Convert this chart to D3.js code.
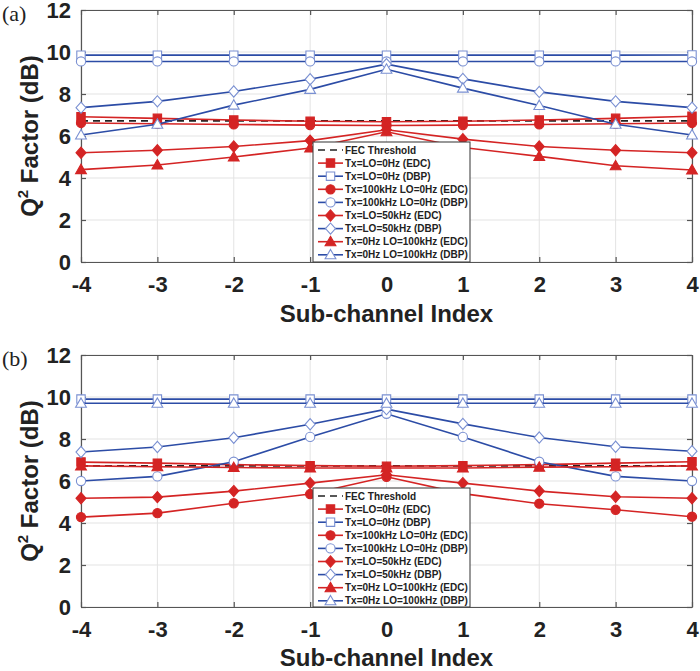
<!DOCTYPE html>
<html>
<head>
<meta charset="utf-8">
<script src="https://cdn.jsdelivr.net/npm/d3@7"></script>
<style>
  body { margin: 0; background: #fff; }
  svg { display: block; font-family: "Liberation Sans", Arial, sans-serif; }
</style>
</head>
<body>
<svg id="chart" width="700" height="671"></svg>
<script>
var subIdx = [-4, -3, -2, -1, 0, 1, 2, 3, 4];
var yTicks = [0, 2, 4, 6, 8, 10, 12];
var fecThreshold = 6.72;

var legendNames = [
  "Tx=LO=0Hz (EDC)",
  "Tx=LO=0Hz (DBP)",
  "Tx=100kHz LO=0Hz (EDC)",
  "Tx=100kHz LO=0Hz (DBP)",
  "Tx=LO=50kHz (EDC)",
  "Tx=LO=50kHz (DBP)",
  "Tx=0Hz LO=100kHz (EDC)",
  "Tx=0Hz LO=100kHz (DBP)"
];

// panel (a)
var aZeroEdc = [6.92, 6.84, 6.76, 6.7, 6.68, 6.7, 6.76, 6.84, 6.94];
var aZeroDbp = [9.85, 9.85, 9.85, 9.85, 9.85, 9.85, 9.85, 9.85, 9.86];
var aTx100Edc = [6.62, 6.58, 6.55, 6.52, 6.5, 6.52, 6.55, 6.58, 6.62];
var aTx100Dbp = [9.55, 9.55, 9.55, 9.55, 9.55, 9.55, 9.55, 9.55, 9.55];
var a50Edc = [5.2, 5.32, 5.5, 5.78, 6.3, 5.85, 5.5, 5.32, 5.2];
var a50Dbp = [7.35, 7.65, 8.12, 8.7, 9.42, 8.72, 8.1, 7.65, 7.35];
var aLo100Edc = [4.4, 4.62, 5.0, 5.43, 6.2, 5.45, 5.03, 4.58, 4.38];
var aLo100Dbp = [6.05, 6.56, 7.47, 8.22, 9.18, 8.28, 7.45, 6.56, 6.05];

// panel (b)
var bZeroEdc = [6.9, 6.85, 6.78, 6.73, 6.7, 6.73, 6.78, 6.85, 6.92];
var bZeroDbp = [9.9, 9.9, 9.9, 9.9, 9.9, 9.9, 9.9, 9.9, 9.9];
var bTx100Edc = [4.28, 4.47, 4.94, 5.38, 6.2, 5.4, 4.92, 4.63, 4.3];
var bTx100Dbp = [6.0, 6.22, 6.92, 8.1, 9.2, 8.1, 6.92, 6.22, 6.0];
var b50Edc = [5.18, 5.23, 5.52, 5.9, 6.3, 5.9, 5.52, 5.25, 5.18];
var b50Dbp = [7.38, 7.62, 8.06, 8.7, 9.42, 8.72, 8.07, 7.63, 7.42];
var bLo100Edc = [6.72, 6.68, 6.64, 6.62, 6.62, 6.62, 6.66, 6.68, 6.72];
var bLo100Dbp = [9.7, 9.7, 9.7, 9.7, 9.7, 9.7, 9.7, 9.7, 9.7];

var red = "#d42424";
var blueLine = "#2c4ca6";
var blueMark = "#7a90d2";

var seriesStyle = [
  { shape: "square", fill: true },
  { shape: "square", fill: false },
  { shape: "circle", fill: true },
  { shape: "circle", fill: false },
  { shape: "diamond", fill: true },
  { shape: "diamond", fill: false },
  { shape: "triangle", fill: true },
  { shape: "triangle", fill: false }
];

var panels = [
  { label: "(a)", top: 10, bottom: 262, legTop: 142, titleY: 60,
    series: [aZeroEdc, aZeroDbp, aTx100Edc, aTx100Dbp, a50Edc, a50Dbp, aLo100Edc, aLo100Dbp] },
  { label: "(b)", top: 355, bottom: 607, legTop: 488, titleY: 59,
    series: [bZeroEdc, bZeroDbp, bTx100Edc, bTx100Dbp, b50Edc, b50Dbp, bLo100Edc, bLo100Dbp] }
];

var svg = d3.select("#chart");
var left = 81, right = 692;

function markerPath(shape, x, y) {
  if (shape === "square") return `M${x-4.2},${y-4.2}h8.4v8.4h-8.4z`;
  if (shape === "circle") return `M${x-4.6},${y}a4.6,4.6 0 1,0 9.2,0a4.6,4.6 0 1,0 -9.2,0z`;
  if (shape === "diamond") return `M${x},${y-5.6}L${x+5},${y}L${x},${y+5.6}L${x-5},${y}z`;
  return `M${x},${y-5.4}L${x+5.4},${y+4}L${x-5.4},${y+4}z`;
}

function drawMarker(g, st, isRed, x, y) {
  var col = isRed ? red : blueMark;
  g.append("path")
    .attr("d", markerPath(st.shape, x, y))
    .attr("fill", st.fill ? col : "#fff")
    .attr("stroke", col)
    .attr("stroke-width", 1.1);
}

panels.forEach(function (p) {
  var x = d3.scaleLinear().domain([-4, 4]).range([left, right]);
  var y = d3.scaleLinear().domain([0, 12]).range([p.bottom, p.top]);
  var g = svg.append("g");

  // grid
  g.selectAll(".gx").data(subIdx).enter().append("line")
    .attr("x1", d => x(d)).attr("x2", d => x(d))
    .attr("y1", p.top).attr("y2", p.bottom)
    .attr("stroke", "#e3e3e3").attr("stroke-width", 1);
  g.selectAll(".gy").data(yTicks).enter().append("line")
    .attr("x1", left).attr("x2", right)
    .attr("y1", d => y(d)).attr("y2", d => y(d))
    .attr("stroke", "#e3e3e3").attr("stroke-width", 1);

  // axes
  var xAxis = g.append("g")
    .attr("transform", `translate(0,${p.bottom})`)
    .call(d3.axisBottom(x).tickValues(subIdx).tickFormat(d => String(d))
      .tickSizeInner(-5).tickSizeOuter(0).tickPadding(14));
  var yAxis = g.append("g")
    .attr("transform", `translate(${left},0)`)
    .call(d3.axisLeft(y).tickValues(yTicks).tickFormat(d => String(d))
      .tickSizeInner(-5).tickSizeOuter(0).tickPadding(10));
  g.append("g")
    .attr("transform", `translate(0,${p.top})`)
    .call(d3.axisTop(x).tickValues(subIdx).tickSizeInner(-5).tickSizeOuter(0).tickFormat(""));
  g.append("g")
    .attr("transform", `translate(${right},0)`)
    .call(d3.axisRight(y).tickValues(yTicks).tickSizeInner(-5).tickSizeOuter(0).tickFormat(""));

  g.selectAll(".domain, .tick line").attr("stroke", "#555").attr("stroke-width", 1.2);
  xAxis.selectAll("text").attr("font-size", 22).attr("font-weight", "bold").attr("fill", "#222")
    .attr("dy", "0.71em");
  yAxis.selectAll("text").attr("font-size", 22).attr("font-weight", "bold").attr("fill", "#222");

  // threshold
  g.append("line")
    .attr("x1", left).attr("x2", right)
    .attr("y1", y(fecThreshold)).attr("y2", y(fecThreshold))
    .attr("stroke", "#222").attr("stroke-width", 1.6).attr("stroke-dasharray", "7,5");

  // series
  p.series.forEach(function (vals, k) {
    var isRed = k % 2 === 0;
    var line = d3.line().x((d, i) => x(subIdx[i])).y(d => y(d));
    g.append("path")
      .datum(vals)
      .attr("d", line)
      .attr("fill", "none")
      .attr("stroke", isRed ? red : blueLine)
      .attr("stroke-width", 1.6);
    vals.forEach(function (v, i) {
      drawMarker(g, seriesStyle[k], isRed, x(subIdx[i]), y(v));
    });
  });

  // legend
  var legLeft = 313, legRight = 470, rowH = 13.1;
  var leg = g.append("g");
  leg.append("rect")
    .attr("x", legLeft).attr("y", p.legTop)
    .attr("width", legRight - legLeft).attr("height", p.bottom - p.legTop)
    .attr("fill", "#fff").attr("stroke", "#444").attr("stroke-width", 1.1);
  var rows = ["FEC Threshold"].concat(legendNames);
  rows.forEach(function (name, r) {
    var cy = p.legTop + 8 + r * rowH;
    if (r === 0) {
      leg.append("line").attr("x1", 318).attr("x2", 343).attr("y1", cy).attr("y2", cy)
        .attr("stroke", "#222").attr("stroke-width", 1.6).attr("stroke-dasharray", "7,5");
    } else {
      var isRed = (r - 1) % 2 === 0;
      leg.append("line").attr("x1", 318).attr("x2", 343).attr("y1", cy).attr("y2", cy)
        .attr("stroke", isRed ? red : blueLine).attr("stroke-width", 1.6);
      drawMarker(leg, seriesStyle[r - 1], isRed, 330.5, cy);
    }
    leg.append("text").attr("x", 345).attr("y", cy).attr("dy", "0.35em")
      .attr("font-size", 10).attr("font-weight", "bold").attr("fill", "#222")
      .text(name);
  });

  // titles
  g.append("text")
    .attr("x", (left + right) / 2).attr("y", p.bottom + p.titleY)
    .attr("text-anchor", "middle").attr("font-size", 24).attr("font-weight", "bold")
    .attr("fill", "#222").text("Sub-channel Index");

  var yl = g.append("text")
    .attr("transform", `translate(38,${(p.top + p.bottom) / 2}) rotate(-90)`)
    .attr("text-anchor", "middle").attr("font-size", 24).attr("font-weight", "bold")
    .attr("fill", "#222");
  yl.append("tspan").text("Q");
  yl.append("tspan").attr("font-size", 15).attr("dy", -10).text("2");
  yl.append("tspan").attr("dy", 10).text(" Factor (dB)");

  g.append("text")
    .attr("x", 2).attr("y", p.top + 11)
    .attr("font-family", "Liberation Serif, Times New Roman, serif")
    .attr("font-size", 22).attr("fill", "#222").text(p.label);
});
</script>
</body>
</html>
